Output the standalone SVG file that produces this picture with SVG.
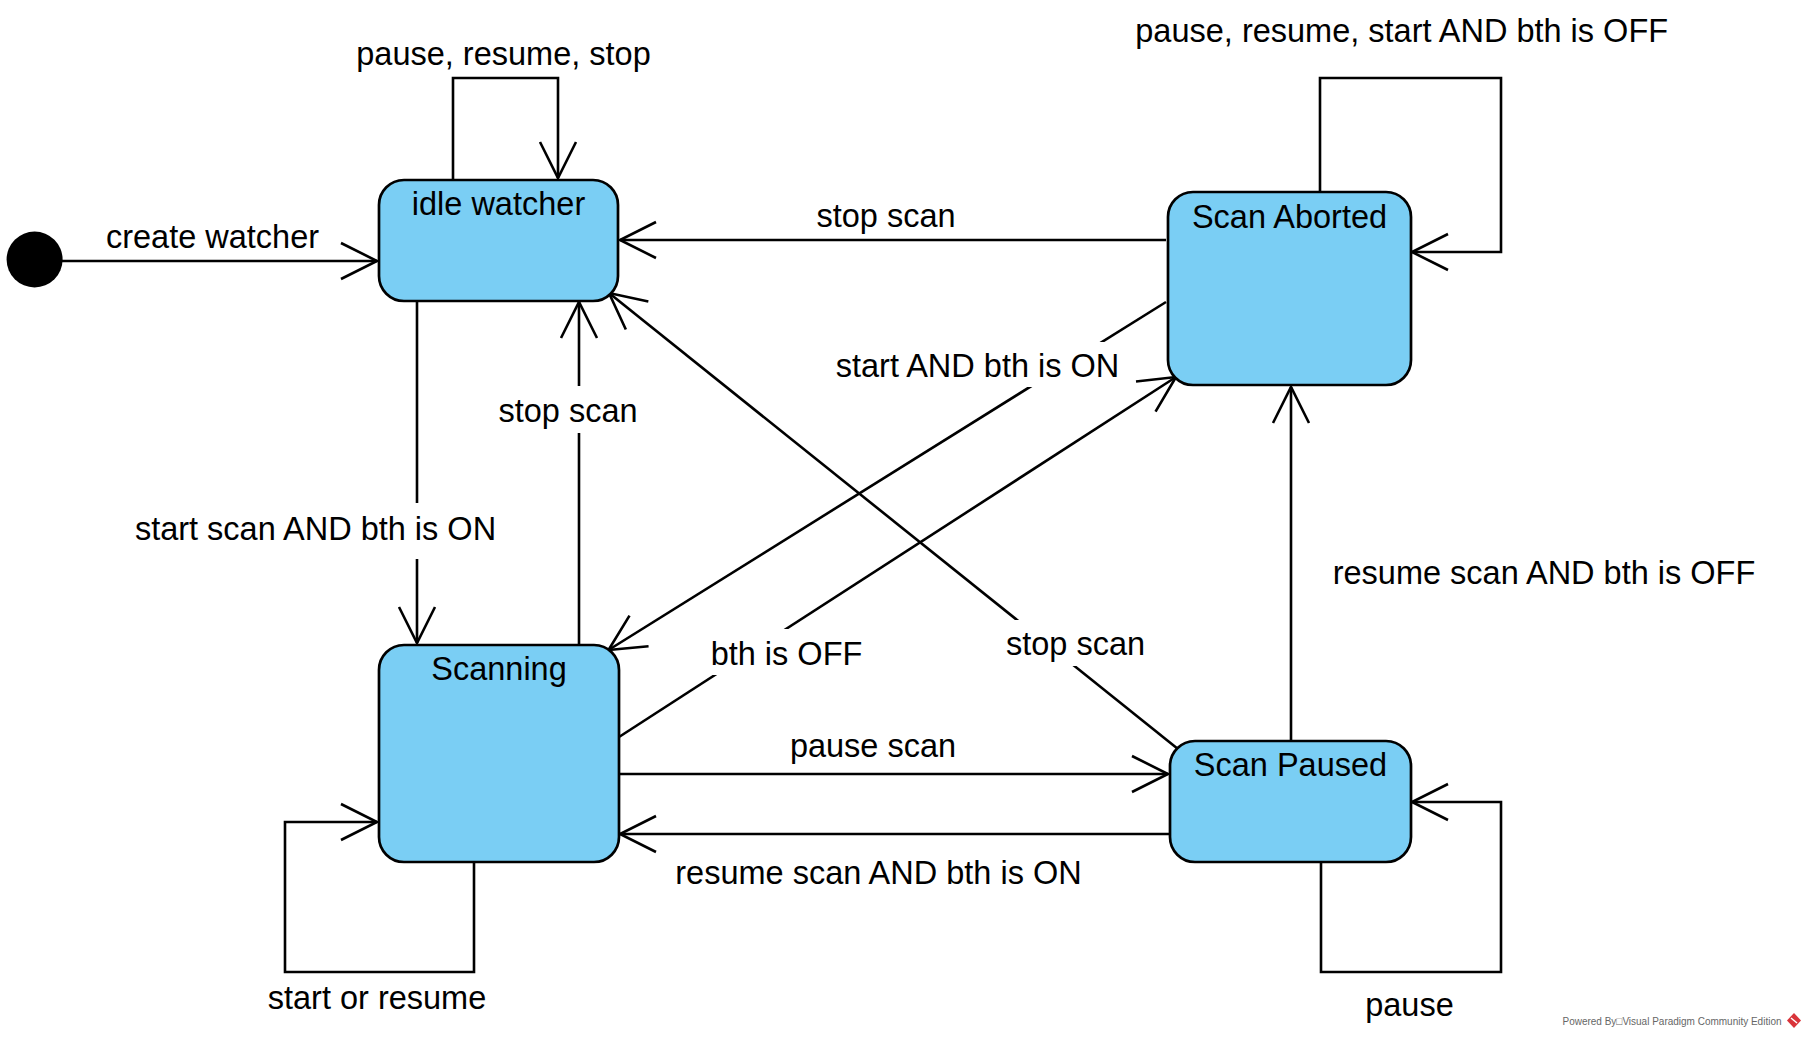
<svg xmlns="http://www.w3.org/2000/svg" width="1806" height="1038" viewBox="0 0 1806 1038">
  <style>
    .node { fill: #7ACEF4; stroke: #000; stroke-width: 2.7; }
    .edge { fill: none; stroke: #000; stroke-width: 2.6; marker-end: url(#arr); }
    .t { font-family: "Liberation Sans", Arial, sans-serif; font-size: 32.5px; fill: #000; text-anchor: middle; }
    .bg { fill: #fff; stroke: none; }
    .wm { font-family: "Liberation Sans", Arial, sans-serif; font-size: 11px; fill: #666; }
  </style>
  <defs>
    <marker id="arr" markerUnits="userSpaceOnUse" viewBox="-42 -22 46 44" refX="0" refY="0" markerWidth="46" markerHeight="44" orient="auto" overflow="visible">
      <path d="M-36,-18 L0,0 L-36,18" fill="none" stroke="#000" stroke-width="2.6"/>
    </marker>
  </defs>
  <rect width="1806" height="1038" fill="#fff"/>

  <g id="connectors">
    <g id="e-create">
      <path class="edge" d="M62,261 L377,261"/>
      <text class="t" x="212.5" y="248">create watcher</text>
    </g>
    <g id="e-idle-self">
      <path class="edge" d="M453,180 L453,78 L558,78 L558,178"/>
      <text class="t" x="503.5" y="64.5">pause, resume, stop</text>
    </g>
    <g id="e-aborted-self">
      <path class="edge" d="M1320,192 L1320,78 L1501,78 L1501,252 L1412,252"/>
      <text class="t" x="1401.7" y="41.7">pause, resume, start AND bth is OFF</text>
    </g>
    <g id="e-aborted-idle">
      <path class="edge" d="M1166,240 L620,240"/>
      <text class="t" x="886" y="226.7">stop scan</text>
    </g>
    <g id="e-idle-scanning">
      <path class="edge" d="M417,301 L417,643"/>
      <rect class="bg" x="130" y="503" width="372" height="56"/>
      <text class="t" x="315.5" y="540">start scan AND bth is ON</text>
    </g>
    <g id="e-scanning-idle">
      <path class="edge" d="M579,645 L579,302"/>
      <rect class="bg" x="496" y="386" width="144" height="47"/>
      <text class="t" x="568" y="421.7">stop scan</text>
    </g>
    <g id="e-aborted-scanning">
      <path class="edge" d="M1166,302 L608.5,650"/>
      <rect class="bg" x="832" y="342" width="292" height="45"/>
      <text class="t" x="977.5" y="376.7">start AND bth is ON</text>
    </g>
    <g id="e-scanning-aborted">
      <path class="edge" d="M619,737 L1176,377"/>
      <rect class="bg" x="708" y="629" width="157" height="46"/>
      <text class="t" x="786.5" y="665">bth is OFF</text>
    </g>
    <g id="e-paused-idle">
      <path class="edge" d="M1178,749 L609,293"/>
      <rect class="bg" x="1003" y="620" width="145" height="46"/>
      <text class="t" x="1075.5" y="655">stop scan</text>
    </g>
    <g id="e-scanning-paused">
      <path class="edge" d="M619,774 L1168,774"/>
      <text class="t" x="873" y="757">pause scan</text>
    </g>
    <g id="e-paused-scanning">
      <path class="edge" d="M1170,834 L620,834"/>
      <text class="t" x="878.5" y="884">resume scan AND bth is ON</text>
    </g>
    <g id="e-scanning-self">
      <path class="edge" d="M474,862 L474,972 L285,972 L285,822 L377,822"/>
      <text class="t" x="377" y="1009.3">start or resume</text>
    </g>
    <g id="e-paused-self">
      <path class="edge" d="M1321,862 L1321,972 L1501,972 L1501,802 L1412,802"/>
      <text class="t" x="1409.5" y="1016">pause</text>
    </g>
    <g id="e-paused-aborted">
      <path class="edge" d="M1291,741 L1291,387"/>
      <text class="t" x="1544" y="584.3">resume scan AND bth is OFF</text>
    </g>
  </g>

  <g id="node-initial">
    <circle cx="34.6" cy="259.5" r="28" fill="#000"/>
  </g>
  <g id="node-idle">
    <rect class="node" x="379" y="180" width="239" height="121" rx="25" ry="25"/>
    <text class="t" x="498.5" y="215">idle watcher</text>
  </g>
  <g id="node-aborted">
    <rect class="node" x="1168" y="192" width="243" height="193" rx="25" ry="25"/>
    <text class="t" x="1289.5" y="227.5">Scan Aborted</text>
  </g>
  <g id="node-scanning">
    <rect class="node" x="379" y="645" width="240" height="217" rx="25" ry="25"/>
    <text class="t" x="499" y="680">Scanning</text>
  </g>
  <g id="node-paused">
    <rect class="node" x="1170" y="741" width="241" height="121" rx="25" ry="25"/>
    <text class="t" x="1290.5" y="776">Scan Paused</text>
  </g>

  <g id="watermark">
    <text class="wm" x="1562.5" y="1025" textLength="219" lengthAdjust="spacingAndGlyphs">Powered By□Visual Paradigm Community Edition</text>
    <path d="M1794,1013 L1801,1020.5 L1794,1028 L1787,1020.5 Z" fill="#D9343A"/>
    <path d="M1791,1018 L1797,1023" stroke="#fff" stroke-width="1.5"/>
  </g>
</svg>
